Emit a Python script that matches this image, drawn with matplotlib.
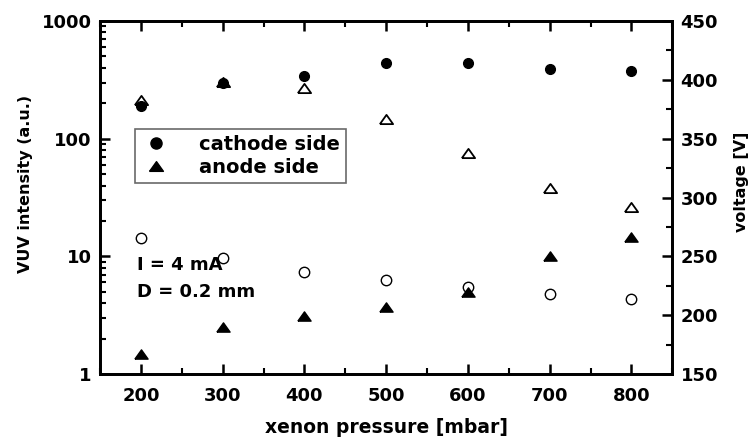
import matplotlib
matplotlib.use("Agg")
import matplotlib.pyplot as plt
from matplotlib.ticker import LogLocator, MultipleLocator, NullFormatter
from matplotlib.lines import Line2D

plt.rcParams['font.family'] = ['DejaVu Sans']
plt.rcParams['font.weight'] = 'bold'

pressure = [200, 300, 400, 500, 600, 700, 800]
# VUV intensity (left, log axis)
cathode_vuv = [189, 300, 340, 438, 438, 390, 376]
anode_vuv = [1.48, 2.5, 3.1, 3.7, 5.0, 10.0, 14.6]
# voltage (right axis)
cathode_volt = [266, 249, 237, 230, 224, 218, 214]
anode_volt = [383, 398, 393, 367, 338, 308, 292]

# flat triangle like the original plot
tri = [(-1, -0.7), (1, -0.7), (0, 0.7), (-1, -0.7)]

fig = plt.figure(figsize=(7.52, 4.37), dpi=100)
ax = fig.add_axes([0.133, 0.144, 0.761, 0.808])
ax2 = ax.twinx()

ax.plot(pressure, cathode_vuv, 'o', color='black', ms=7, zorder=3)
ax.plot(pressure, anode_vuv, marker=tri, ls='none', color='black', ms=9.5, zorder=3)
ax2.plot(pressure, cathode_volt, 'o', mfc='white', mec='black', mew=1, ms=7.5)
ax2.plot(pressure, anode_volt, marker=tri, ls='none', mfc='white', mec='black',
         mew=1.3, ms=9.5)

ax.set_yscale('log')
ax.set_ylim(1, 1000)
ax.set_xlim(150, 850)
ax2.set_ylim(150, 450)
ax.set_zorder(ax2.get_zorder() + 1)
ax.patch.set_visible(False)

ax.set_xticks(pressure)
ax.xaxis.set_minor_locator(MultipleLocator(50))
ax.yaxis.set_minor_locator(LogLocator(base=10, subs=range(2, 10)))
ax.yaxis.set_minor_formatter(NullFormatter())
ax.set_yticks([1, 10, 100, 1000])
ax.set_yticklabels(['1', '10', '100', '1000'])
ax2.yaxis.set_major_locator(MultipleLocator(50))
ax2.yaxis.set_minor_locator(MultipleLocator(25))

ax.tick_params(axis='both', which='major', direction='in', length=7, width=1.8,
               labelsize=13, top=True, pad=6)
ax.tick_params(axis='x', which='major', pad=9)
ax.tick_params(axis='both', which='minor', direction='in', length=4, width=1.5, top=True)
ax.tick_params(axis='y', which='both', right=False)
ax2.tick_params(axis='y', which='major', direction='in', length=7, width=1.8,
                labelsize=13, pad=6)
ax2.tick_params(axis='y', which='minor', direction='in', length=4, width=1.5)
for a in (ax, ax2):
    for s in a.spines.values():
        s.set_linewidth(2)
    for lab in a.get_xticklabels() + a.get_yticklabels():
        lab.set_fontweight('bold')

ax.set_xlabel('xenon pressure [mbar]', fontsize=13.5, fontweight='bold', labelpad=10)
ax.set_ylabel('VUV intensity (a.u.)', fontsize=11.5, fontweight='bold')
ax.yaxis.set_label_coords(-0.117, 0.538)
ax2.set_ylabel('voltage [V]', fontsize=11.5, fontweight='bold')
ax2.yaxis.set_label_coords(1.108, 0.544)

handles = [Line2D([], [], ls='none', marker='o', color='black', ms=8),
           Line2D([], [], ls='none', marker=tri, color='black', ms=10)]
leg = ax.legend(handles, ['cathode side', 'anode side'], loc='upper left',
                bbox_to_anchor=(0.061, 0.694), frameon=True, fancybox=False,
                edgecolor='#444444', prop={'size': 14, 'weight': 'bold'},
                handletextpad=1.4, borderpad=0.3, labelspacing=0.2,
                handlelength=1.6, borderaxespad=0)
leg.get_frame().set_linewidth(1.2)

ax.text(0.065, 0.309, 'I = 4 mA', transform=ax.transAxes, fontsize=13,
        fontweight='bold', va='center')
ax.text(0.065, 0.232, 'D = 0.2 mm', transform=ax.transAxes, fontsize=13,
        fontweight='bold', va='center')

fig.savefig('out.png', dpi=100)
